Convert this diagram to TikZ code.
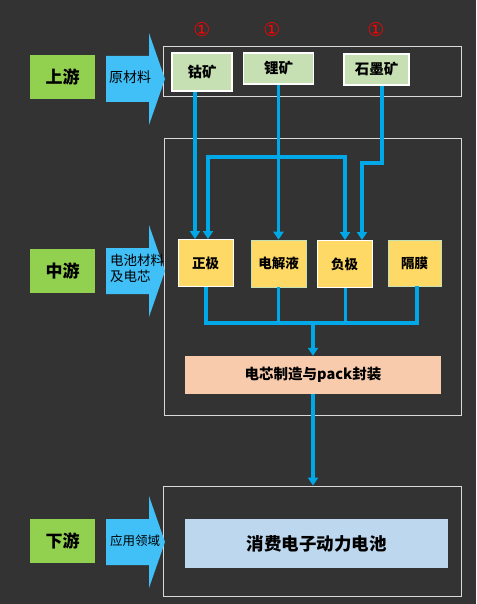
\documentclass[tikz,border=0pt]{standalone}
\usepackage{fontspec}
\setmainfont{Noto Sans CJK SC}
\newfontfamily\symfont{DejaVu Sans}
\usepackage{tikz}
\usetikzlibrary{arrows.meta}
\usetikzlibrary{positioning}
\definecolor{bgdark}{HTML}{333333}
\definecolor{stagegreen}{HTML}{92D050}
\definecolor{arrowblue}{HTML}{41C0F8}
\definecolor{lineblue}{HTML}{00A8E8}
\definecolor{oregreen}{HTML}{C6E0B4}
\definecolor{partyellow}{HTML}{FFD966}
\definecolor{cellpeach}{HTML}{F8CBAD}
\definecolor{usebluelight}{HTML}{BDD7EE}
\definecolor{framegray}{HTML}{D9D9D9}
\tikzstyle{stage}=[fill=stagegreen, minimum width=65pt, minimum height=44pt, inner sep=0pt, font=\fontsize{17}{19}\selectfont\bfseries]
\tikzstyle{frame}=[draw=framegray, line width=0.9pt, inner sep=0pt]
\tikzstyle{ore}=[fill=oregreen, draw=white, line width=1.2pt, inner sep=0pt, font=\fontsize{14.5}{16}\selectfont\bfseries]
\tikzstyle{part}=[fill=partyellow, inner sep=0pt, minimum width=55pt, minimum height=47pt, font=\fontsize{13.5}{15}\selectfont\bfseries]
\tikzstyle{wide}=[inner sep=0pt, font=\fontsize{14.5}{16}\selectfont\bfseries]
\tikzstyle{wire}=[draw=lineblue, line width=3.4pt]
\tikzstyle{flow}=[wire, -{Triangle[width=10pt,length=8pt]}]
\tikzstyle{redmark}=[text=red, font=\symfont\fontsize{19}{20}\selectfont]
\newcommand{\fatarrow}[1]{%
  \fill[arrowblue] (106,#1-23) -- (149,#1-23) -- (149,#1-46) -- (165,#1)
    -- (149,#1+46) -- (149,#1+23) -- (106,#1+23) -- cycle;}

\begin{document}
\begin{tikzpicture}[x=1pt, y=-1pt]
\fill[bgdark] (0,0) rectangle (476,604);
\useasboundingbox (0,0) rectangle (476,604);
% frames
\node[frame, minimum width=298pt, minimum height=50pt] (upframe) at (312,71){};
\node[frame, minimum width=297pt, minimum height=277pt] (midframe) at (312.5,277){};
\node[frame, minimum width=298pt, minimum height=110pt] (downframe) at (312,541){};
% stages
\node[stage] (up) at (62.5,77){上游};
\node[stage] (mid) at (62.5,270.5){中游};
\node[stage] (down) at (62.5,541){下游};
\fatarrow{79}
\fatarrow{271}
\fatarrow{542}
\node[anchor=west, inner sep=0pt, font=\fontsize{14}{15}\selectfont] (rawtxt) at (109,77){原材料};
\node[anchor=west, inner sep=0pt, align=left, font=\fontsize{13.5}{16}\selectfont] (midtxt) at (110,268){电池材料\\及电芯};
\node[anchor=west, inner sep=0pt, font=\fontsize{12.5}{14}\selectfont] (usetxt) at (110,541){应用领域};
% ores
\node[ore, minimum width=60pt, minimum height=38pt] (co) at (202,72){钴矿};
\node[ore, minimum width=70pt, minimum height=31pt] (li) at (278.5,68.5){锂矿};
\node[ore, minimum width=65pt, minimum height=31pt] (gr) at (376.5,69.5){石墨矿};
\node[redmark] (m1) at (202,30){①};
\node[redmark] (m2) at (272,30){①};
\node[redmark] (m3) at (376,30){①};
% battery parts
\node[part, draw=white, line width=1pt] (pos) at (205.5,263){正极};
\node[part, draw=oregreen, line width=0.6pt] (ele) at (278.5,263.5){电解液};
\node[part, draw=white, line width=1pt] (neg) at (344.5,264){负极};
\node[part, draw=oregreen, line width=0.6pt, minimum width=53pt, minimum height=46pt] (sep) at (414.5,263){隔膜};
\node[wide, fill=cellpeach, minimum width=256pt, minimum height=38pt] (cell) at (313,375){电芯制造与pack封装};
\node[wide, fill=usebluelight, minimum width=263pt, minimum height=49pt, font=\fontsize{17.5}{19}\selectfont\bfseries] (use) at (316.5,543.5){消费电子动力电池};
% ore links
\draw[flow] ([xshift=-7]co.south) -- ([xshift=-10.5]pos.north);
\draw[flow] (li.south) -- (ele.north);
\coordinate (libr) at (278.5,157);
\draw[flow] (libr) -| ([xshift=2.5]pos.north);
\draw[flow] (libr) -| ([xshift=0.5]neg.north);
\coordinate (grbend) at (362,163);
\draw[flow] ([xshift=5.5]gr.south) |- (grbend) -- ([xshift=17.5]neg.north);
% collect parts
\coordinate (bus) at (313,323);
\coordinate (posbus) at (206,323);
\coordinate (elebus) at (278.5,323);
\coordinate (negbus) at (345.5,323);
\coordinate (sepbus) at (417,323);
\draw[wire] ([xshift=0.5]pos.south) -- (posbus) -- (sepbus) -- ([xshift=2.5]sep.south);
\draw[wire] (ele.south) -- (elebus);
\draw[wire] ([xshift=1]neg.south) -- (negbus);
\draw[flow] (bus) -- (cell.north);
\draw[flow] (cell.south) -- (cell.south |- downframe.north);
\end{tikzpicture}
\end{document}
